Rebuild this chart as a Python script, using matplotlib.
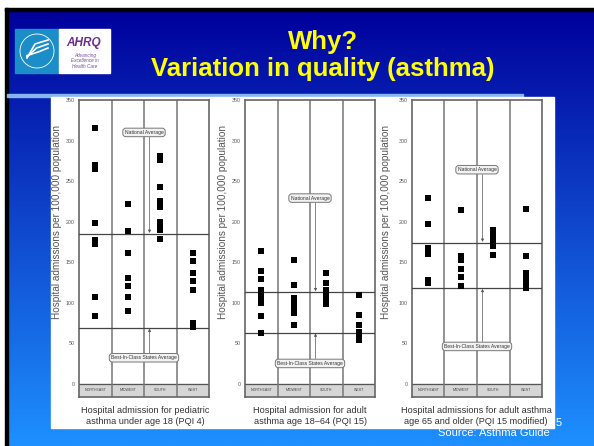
import matplotlib
matplotlib.use('Agg')
import matplotlib.pyplot as plt
from matplotlib.patches import Rectangle, Circle
import numpy as np

plt.rcParams['font.family'] = ['Liberation Sans', 'DejaVu Sans']

# data
regions = ['NORTHEAST', 'MIDWEST', 'SOUTH', 'WEST']
yticks = [0, 50, 100, 150, 200, 250, 300, 350]

pqi4_values = [
    [316, 270, 265, 198, 177, 172, 107, 83],
    [222, 189, 161, 131, 121, 107, 90],
    [281, 276, 243, 225, 218, 200, 195, 190, 178],
    [161, 151, 136, 127, 116, 75, 70],
]
pqi4_national = 185
pqi4_best = 69

pqi15_values = [
    [164, 139, 129, 116, 111, 107, 99, 84, 63],
    [152, 122, 106, 101, 96, 91, 87, 72],
    [137, 124, 116, 110, 105, 98],
    [110, 85, 73, 64, 58, 54],
]
pqi15_national = 113
pqi15_best = 63

pqi15m_values = [
    [229, 197, 168, 164, 160, 128, 124],
    [214, 157, 153, 142, 132, 120],
    [190, 185, 180, 175, 170, 159],
    [216, 158, 137, 130, 124, 118],
]
pqi15m_national = 174
pqi15m_best = 118

captions = [
    'Hospital admission for pediatric\nasthma under age 18 (PQI 4)',
    'Hospital admission for adult\nasthma age 18\u201364 (PQI 15)',
    'Hospital admissions for adult asthma\nage 65 and older (PQI 15 modified)',
]

W, H = 594, 446
fig = plt.figure(figsize=(W / 100, H / 100), dpi=100)
fig.patch.set_facecolor('white')

# background, drawn in pixel coords
bg = fig.add_axes([0, 0, 1, 1])
bg.axis('off')

top = np.array([0, 0, 155]) / 255
bot = np.array([30, 144, 255]) / 255
t = np.linspace(0, 1, 256)[:, None]
grad = (top[None, :] * (1 - t) + bot[None, :] * t)[:, None, :]
bg.imshow(grad, extent=(7, W, H, 10), aspect='auto', zorder=0)
bg.set_xlim(0, W)
bg.set_ylim(H, 0)
bg.add_patch(Rectangle((5, 8), W - 5, 2.5, color='black', zorder=1))
bg.add_patch(Rectangle((5, 8), 2.5, H - 8, color='black', zorder=1))

# header separator
bg.add_patch(Rectangle((7, 93.5), 516, 3, color='#86b6f2', zorder=1))

# logo
bg.add_patch(Rectangle((15, 29), 44, 44, color='#1b8dc8', zorder=2))
bg.add_patch(Rectangle((59, 29), 51, 44, color='white', zorder=2))
bg.add_patch(Circle((37, 51), 17, fill=False, ec='white', lw=0.6, zorder=3))
for dy in [0, 4, 8]:
    bg.plot([27, 35 + dy * 0.4, 48], [58 - dy * 0.3, 44 + dy, 40 + dy],
            color='white', lw=1.2, zorder=3)
bg.text(84, 43, 'AHRQ', color='#6b2c91', fontsize=8.5, fontweight='bold',
        fontstyle='italic', ha='center', va='center', zorder=3)
bg.text(85, 61, 'Advancing\nExcellence in\nHealth Care', color='#7a4a9a',
        fontsize=3.4, fontstyle='italic', ha='center', va='center',
        linespacing=1.0, zorder=3)

# title
bg.text(323, 42, 'Why?', color='#ffff00', fontsize=18.5, fontweight='bold',
        ha='center', va='center', zorder=3)
bg.text(323, 69, 'Variation in quality (asthma)', color='#ffff00', fontsize=18.5,
        fontweight='bold', ha='center', va='center', zorder=3)

# white panel
panel = Rectangle((51, 97), 503, 331, color='white', zorder=2)
bg.add_patch(panel)

# captions
for cx, cap in zip([145, 310, 476], captions):
    tx = bg.text(cx, 416, cap, color='#333333', fontsize=6.6, ha='center',
                 va='center', linespacing=1.15, zorder=3)
    tx.set_clip_path(panel)

bg.text(556, 423, '5', color='white', fontsize=8, ha='left', va='center', zorder=3)
bg.text(494, 433, 'Source: Asthma Guide', color='white', fontsize=8,
        ha='center', va='center', zorder=3)

# one region chart
def Panel(left, values, national, best, nat_box, best_box, ylab_x):
    ax = fig.add_axes([left / W, 1 - 397 / H, 130 / W, 297 / H])
    ymin = -16.4
    ax.set_xlim(0, 4)
    ax.set_ylim(ymin, 350)
    ax.axhspan(ymin, 0, color='#d6d6d6', zorder=0)
    ax.axhline(0, color='#555555', lw=0.9)
    for k in range(1, 4):
        ax.axvline(k, color='#777777', lw=1.1)
    for k, name in enumerate(regions):
        ax.text(k + 0.5, ymin / 2, name, fontsize=2.6, color='#444444',
                ha='center', va='center')
    for k, vals in enumerate(values):
        ax.scatter([k + 0.5] * len(vals), vals, marker='s', s=16,
                   color='black', zorder=4, linewidths=0)
    ax.axhline(national, color='#444444', lw=0.9, zorder=3)
    ax.axhline(best, color='#444444', lw=0.9, zorder=3)
    box = dict(boxstyle='round,pad=0.35,rounding_size=0.6', fc='#f2f2f2',
               ec='#777777', lw=0.7)
    ax.text(2.0, nat_box, 'National Average', fontsize=3.6, color='#333333',
            ha='center', va='center', bbox=box, zorder=5)
    ax.text(2.0, best_box, 'Best-In-Class States Average', fontsize=3.6,
            color='#333333', ha='center', va='center', bbox=box, zorder=5)
    arrow = dict(arrowstyle='-|>', lw=0.5, color='#555555', mutation_scale=4,
                 shrinkA=0, shrinkB=0)
    ax.annotate('', xy=(2.17, national + 1), xytext=(2.17, nat_box - 6),
                arrowprops=arrow, zorder=4)
    ax.annotate('', xy=(2.17, best - 1), xytext=(2.17, best_box + 6),
                arrowprops=arrow, zorder=4)
    ax.set_xticks([])
    ax.set_yticks(yticks)
    ax.tick_params(axis='y', length=0, pad=3, labelsize=3.8,
                   labelcolor='#555555')
    for s in ax.spines.values():
        s.set_color('#666666')
        s.set_linewidth(1.2)
    fig.text(ylab_x / W, 1 - 222 / H, 'Hospital admissions per 100,000 population',
             rotation=90, fontsize=7.2, color='#555555', ha='center', va='center')
    return ax

Panel(79, pqi4_values, pqi4_national, pqi4_best, 310, 32, 57)
Panel(245, pqi15_values, pqi15_national, pqi15_best, 229, 25, 223)
Panel(412, pqi15m_values, pqi15m_national, pqi15m_best, 264, 46, 386)

fig.savefig('out.png', dpi=100, facecolor='white')
